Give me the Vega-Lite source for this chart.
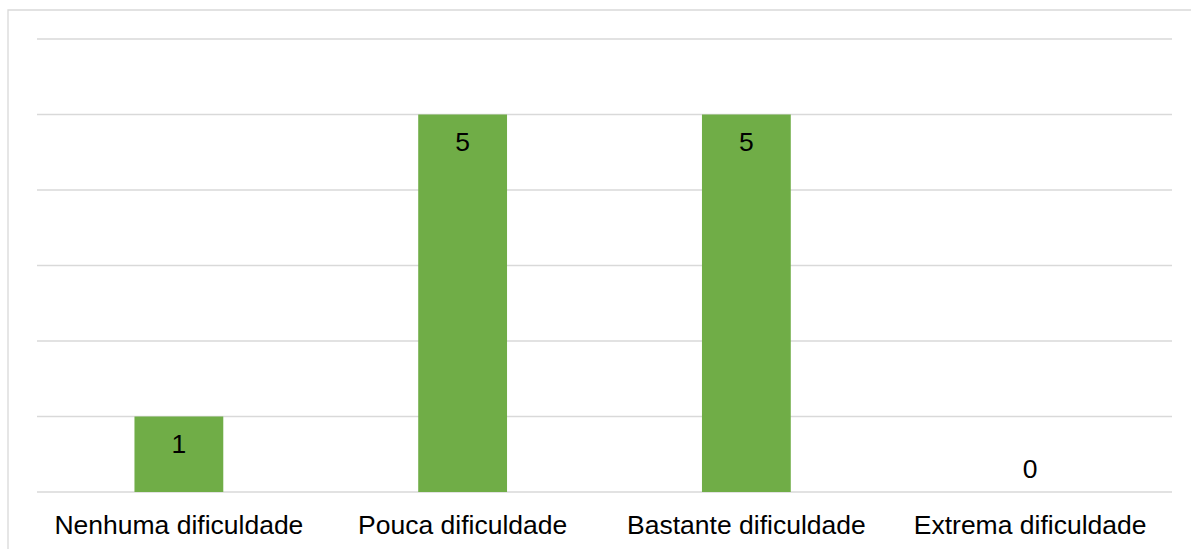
{
  "$schema": "https://vega.github.io/schema/vega-lite/v6.json",
  "width": 1183,
  "height": 539,
  "autosize": {"type": "none"},
  "padding": {"left": 8, "top": 10, "right": 0, "bottom": 0},
  "background": "white",
  "config": {
    "view": {"stroke": null},
    "font": "Liberation Sans",
    "text": {"font": "Liberation Sans"}
  },
  "datasets": {
    "respostas": [
      {"categoria": "Nenhuma dificuldade", "n": 1},
      {"categoria": "Pouca dificuldade", "n": 5},
      {"categoria": "Bastante dificuldade", "n": 5},
      {"categoria": "Extrema dificuldade", "n": 0}
    ],
    "grade": [
      {"v": 0}, {"v": 1}, {"v": 2}, {"v": 3}, {"v": 4}, {"v": 5}, {"v": 6}
    ],
    "moldura": [{"canto": "a"}]
  },
  "resolve": {"scale": {"x": "independent", "y": "independent"}},
  "layer": [
    {
      "description": "chart frame (left and top edges)",
      "data": {"name": "moldura"},
      "mark": {"type": "rect", "fill": null, "stroke": "#d9d9d9", "strokeWidth": 1.3},
      "encoding": {
        "x": {"datum": 0, "type": "quantitative", "scale": {"domain": [0, 1]}, "axis": null},
        "x2": {"datum": 2},
        "y": {"datum": 1, "type": "quantitative", "scale": {"domain": [0, 1]}, "axis": null},
        "y2": {"datum": -1}
      }
    },
    {
      "description": "horizontal gridlines",
      "data": {"name": "grade"},
      "mark": {"type": "rule", "stroke": "#d9d9d9", "strokeWidth": 1.5},
      "encoding": {
        "x": {"datum": 0, "type": "quantitative", "scale": {"domain": [0, 1], "range": [29, 1164]}, "axis": null},
        "x2": {"datum": 1},
        "y": {"field": "v", "type": "quantitative", "scale": {"domain": [0, 6], "range": [482, 29]}, "axis": null}
      }
    },
    {
      "data": {"name": "respostas"},
      "layer": [
        {
          "mark": {"type": "bar", "color": "#70ad47"},
          "encoding": {
            "x": {
              "field": "categoria", "type": "nominal", "sort": null,
              "scale": {"range": [29, 1164], "paddingInner": 0.687, "paddingOuter": 0.3435},
              "axis": {
                "title": null, "domain": false, "ticks": false, "grid": false,
                "labelFont": "Liberation Sans", "labelFontSize": 26.5, "labelColor": "#000000",
                "labelPadding": 20, "labelAngle": 0, "labelLimit": 0, "offset": -57
              }
            },
            "y": {"field": "n", "type": "quantitative", "scale": {"domain": [0, 6], "range": [482, 29]}, "axis": null}
          }
        },
        {
          "transform": [{"filter": "datum.n > 0"}],
          "mark": {"type": "text", "fontSize": 26.5, "color": "#000000", "baseline": "middle", "dy": 28},
          "encoding": {
            "x": {"field": "categoria", "type": "nominal", "sort": null},
            "y": {"field": "n", "type": "quantitative"},
            "text": {"field": "n", "type": "quantitative"}
          }
        },
        {
          "transform": [{"filter": "datum.n == 0"}],
          "mark": {"type": "text", "fontSize": 26.5, "color": "#000000", "baseline": "middle", "dy": -22},
          "encoding": {
            "x": {"field": "categoria", "type": "nominal", "sort": null},
            "y": {"field": "n", "type": "quantitative"},
            "text": {"field": "n", "type": "quantitative"}
          }
        }
      ]
    }
  ]
}
